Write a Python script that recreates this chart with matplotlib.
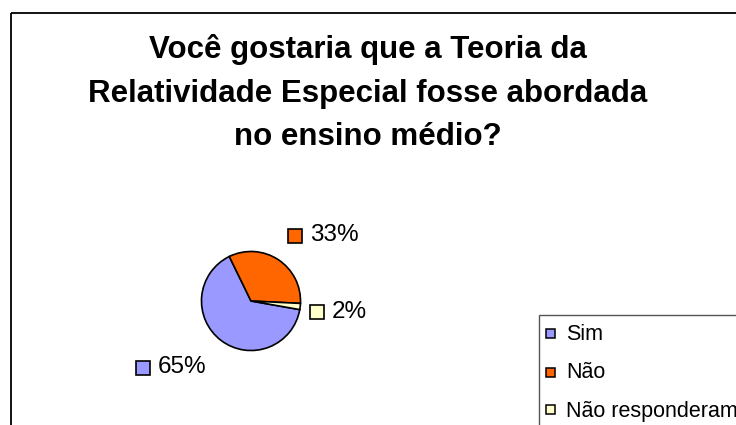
import matplotlib
matplotlib.use("Agg")
import matplotlib.pyplot as plt
from matplotlib.patches import Rectangle

title_lines = ["Você gostaria que a Teoria da",
               "Relatividade Especial fosse abordada",
               "no ensino médio?"]
categories = ["Sim", "Não", "Não responderam"]
values = [65, 33, 2]
colors = ["#9999FF", "#FF6600", "#FFFFCC"]

W, H = 736, 425
fig = plt.figure(figsize=(W / 100, H / 100), dpi=100)
fig.patch.set_facecolor("white")
plt.rcParams['font.family'] = ['Liberation Sans', 'DejaVu Sans']

# overlay in pixel coords
ov = fig.add_axes([0, 0, 1, 1])
ov.set_xlim(0, W)
ov.set_ylim(H, 0)
ov.axis("off")

# outer frame (top and left visible)
ov.plot([10.5, W + 5], [12.5, 12.5], color="black", lw=1.3, solid_capstyle="butt")
ov.plot([10.5, 10.5], [12.5, H + 5], color="black", lw=1.3, solid_capstyle="butt")

# title
for txt, yb in zip(title_lines, [58, 101.5, 145]):
    ov.text(368, yb, txt, ha="center", va="baseline", fontsize=22.5,
            fontweight="bold", color="black")

# pie
cx, cy, r = 251, 301, 51
pax = fig.add_axes([(cx - r) / W, (H - cy - r) / H, 2 * r / W, 2 * r / H])
wedges, _ = pax.pie(values, colors=colors, startangle=-10, counterclock=False,
                    radius=1, wedgeprops=dict(edgecolor="black", linewidth=1.2))
pax.set_xlim(-1.03, 1.03)
pax.set_ylim(-1.03, 1.03)
pax.axis("off")

# data labels: (square center x, y, text x, baseline)
label_pos = [(143, 367.5, 158, 373), (295, 236, 310.5, 241), (316.5, 312, 331.5, 318)]
for v, c, (sx, sy, tx, ty) in zip(values, colors, label_pos):
    ov.add_patch(Rectangle((sx - 7, sy - 7), 14, 14, facecolor=c,
                           edgecolor="black", lw=1.2))
    ov.text(tx, ty, f"{v}%", ha="left", va="baseline", fontsize=17.5, color="black")

# legend
ov.add_patch(Rectangle((538.5, 314.5), 400, 200, facecolor="white",
                       edgecolor="#555555", lw=1.0, clip_on=True))
leg_y = [(333, 339.5), (372, 378), (409.5, 416.5)]
for cat, c, (sy, ty) in zip(categories, colors, leg_y):
    ov.add_patch(Rectangle((545.5, sy - 4.5), 9, 9, facecolor=c,
                           edgecolor="black", lw=1.1))
    ov.text(566, ty, cat, ha="left", va="baseline", fontsize=15.5, color="black")

fig.savefig("out.png", dpi=100)
